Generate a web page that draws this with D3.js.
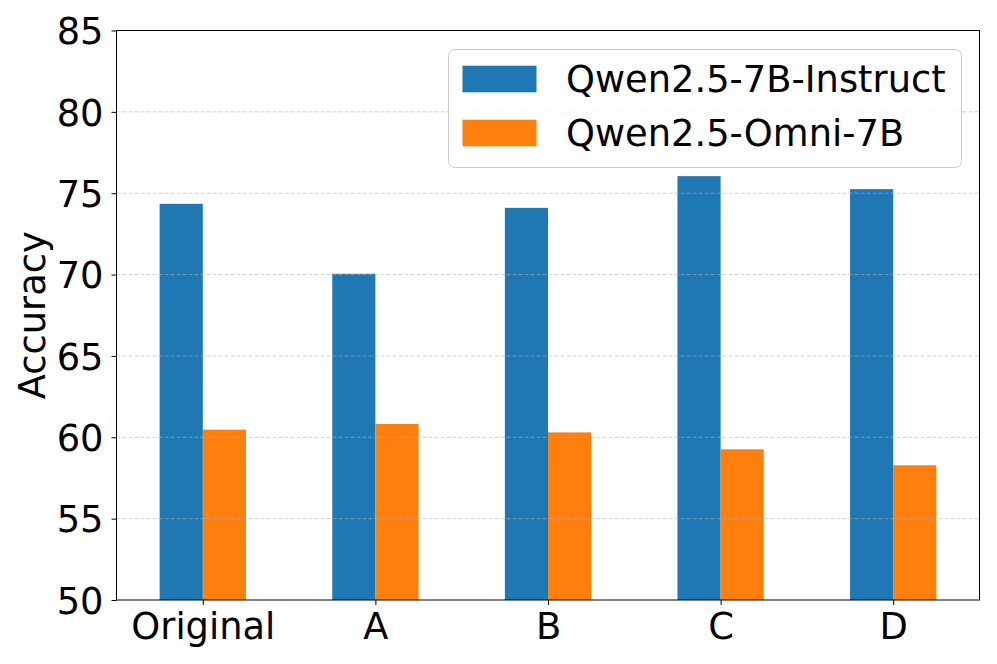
<!DOCTYPE html>
<html>
<head>
<meta charset="utf-8">
<script src="https://cdn.jsdelivr.net/npm/d3@7"></script>
<style>
  html, body { margin: 0; padding: 0; background: #fff; }
  svg { display: block; font-family: "DejaVu Sans", sans-serif; }
</style>
</head>
<body>
<svg id="chart" width="997" height="664"></svg>
<script>
const categories = ["Original", "A", "B", "C", "D"];
const seriesNames = ["Qwen2.5-7B-Instruct", "Qwen2.5-Omni-7B"];
const instructValues = [74.35, 70.05, 74.1, 76.05, 75.25];
const omniValues = [60.47, 60.82, 60.3, 59.26, 58.28];
const yTicks = [50, 55, 60, 65, 70, 75, 80, 85];
const colors = ["#1f77b4", "#ff7f0e"];

(function () {
const svg = d3.select("#chart");
const mLeft = 116.5, mRight = 979.5, mTop = 30.5, mBottom = 600;
const fontSize = 36.8;

const x = d3.scaleLinear().domain([-0.5, categories.length - 0.5]).range([mLeft, mRight]);
const y = d3.scaleLinear().domain([50, 85]).range([mBottom, mTop]);
const barW = 0.25;

const series = [instructValues, omniValues];

// bars
series.forEach((vals, s) => {
  svg.append("g").selectAll("rect")
    .data(vals)
    .join("rect")
    .attr("x", (d, i) => x(i - barW + s * barW))
    .attr("width", x(barW) - x(0))
    .attr("y", d => y(d))
    .attr("height", d => y(50) - y(d))
    .attr("fill", colors[s]);
});

// grid (drawn above bars)
svg.append("g").selectAll("line")
  .data(yTicks.filter(t => t > 50 && t < 85))
  .join("line")
  .attr("x1", mLeft).attr("x2", mRight)
  .attr("y1", d => y(d)).attr("y2", d => y(d))
  .attr("stroke", "#b0b0b0")
  .attr("stroke-opacity", 0.6)
  .attr("stroke-width", 1)
  .attr("stroke-dasharray", "4,2");

// y axis
const yAxis = d3.axisLeft(y).tickValues(yTicks).tickSize(5).tickPadding(8).tickFormat(d3.format("d"));
const gy = svg.append("g").attr("transform", `translate(${mLeft},0)`).call(yAxis);
gy.select(".domain").remove();
gy.selectAll("line").attr("stroke", "#000").attr("stroke-width", 1);
gy.selectAll("text").attr("font-size", fontSize).attr("font-family", "DejaVu Sans").attr("fill", "#000").attr("dy", "0.36em");

// x axis
const xAxis = d3.axisBottom(x).tickValues(d3.range(categories.length)).tickSize(5).tickPadding(8).tickFormat(i => categories[i]);
const gx = svg.append("g").attr("transform", `translate(0,${mBottom})`).call(xAxis);
gx.select(".domain").remove();
gx.selectAll("line").attr("stroke", "#000").attr("stroke-width", 1);
gx.selectAll("text").attr("font-size", fontSize).attr("font-family", "DejaVu Sans").attr("fill", "#000").attr("dy", "0.7em");

// frame
svg.append("rect")
  .attr("x", mLeft).attr("y", mTop)
  .attr("width", mRight - mLeft).attr("height", mBottom - mTop)
  .attr("fill", "none").attr("stroke", "#000").attr("stroke-width", 1);

// y label
svg.append("text")
  .attr("transform", `translate(45,${(mTop + mBottom) / 2}) rotate(-90)`)
  .attr("text-anchor", "middle")
  .attr("font-size", fontSize)
  .attr("fill", "#000")
  .text("Accuracy");

// legend
const lg = svg.append("g");
lg.append("rect")
  .attr("x", 448.5).attr("y", 49.5).attr("width", 513).attr("height", 118)
  .attr("rx", 6).attr("ry", 6)
  .attr("fill", "#fff").attr("fill-opacity", 0.8)
  .attr("stroke", "#cccccc").attr("stroke-width", 1);
const rowY = [79, 133];
seriesNames.forEach((name, s) => {
  lg.append("rect")
    .attr("x", 462.5).attr("y", rowY[s] - 13.3)
    .attr("width", 74).attr("height", 26.6)
    .attr("fill", colors[s]);
  lg.append("text")
    .attr("x", 566)
    .attr("y", rowY[s] + 13.3)
    .attr("font-size", fontSize)
    .attr("fill", "#000")
    .text(name);
});
})();
</script>
</body>
</html>
